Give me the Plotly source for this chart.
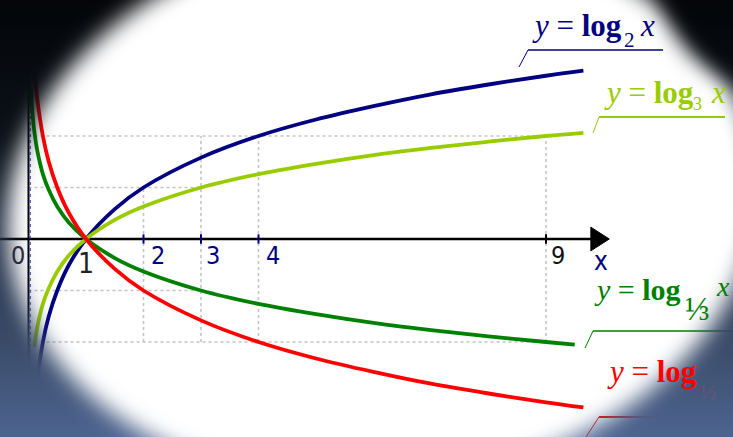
import base64
import plotly.graph_objects as go

W, H = 733, 437

# ---------------- data ----------------
X_INC = [0.1, 0.15, 0.25, 0.35, 0.5, 0.7, 1, 1.5, 2, 3, 4, 5, 6, 7, 8, 9, 9.65]
LOG2 = [-3.32, -2.74, -2.0, -1.51, -1.0, -0.51, 0, 0.58, 1, 1.58, 2, 2.32, 2.58, 2.81, 3, 3.17, 3.27]
LOG3 = [-2.10, -1.73, -1.26, -0.96, -0.63, -0.32, 0, 0.37, 0.63, 1, 1.26, 1.46, 1.63, 1.77, 1.89, 2, 2.06]

X_THIRD = [0.04, 0.06, 0.1, 0.15, 0.25, 0.35, 0.5, 0.7, 1, 1.5, 2, 3, 4, 5, 6, 7, 8, 9, 9.5]
LOG_THIRD = [2.93, 2.56, 2.10, 1.73, 1.26, 0.96, 0.63, 0.32, 0, -0.37, -0.63, -1, -1.26, -1.46, -1.63, -1.77, -1.89, -2, -2.05]

X_HALF = [0.08, 0.1, 0.15, 0.25, 0.35, 0.5, 0.7, 1, 1.5, 2, 3, 4, 5, 6, 7, 8, 9, 9.65]
LOG_HALF = [3.64, 3.32, 2.74, 2, 1.51, 1, 0.51, 0, -0.58, -1, -1.58, -2, -2.32, -2.58, -2.81, -3, -3.17, -3.27]

TICK_X = [2, 3, 4, 9]
TICK_LABELS = ["2", "3", "4", "9"]
GRID_H_Y = [2, 1, -1, -2]
GRID_H_END = [9, 3, 3, 9]
GRID_V_X = [2, 3, 4, 9]
GRID_V_TOP = [1, 2, 2, 2]
GRID_V_BOTTOM = -2

# ---------------- geometry of the drawing ----------------
X0_PX, X_UNIT = 28.5, 57.5
Y0_PX, Y_UNIT = 239.0, 51.5
XR = [-X0_PX / X_UNIT, (W - X0_PX) / X_UNIT]
YR = [-(H - Y0_PX) / Y_UNIT, Y0_PX / Y_UNIT]


def px(x):
    return x / W


def py(y):
    return 1 - y / H


NAVY = "#000080"
LIME = "#99cc00"
GREEN = "#008000"
RED = "#ff0000"
SERIF = "Liberation Serif, Times New Roman, serif"
NARROW = "Liberation Sans Narrow, DejaVu Sans Condensed, Arial Narrow, sans-serif"

fig = go.Figure()
for xs, ys, col in [(X_INC, LOG2, NAVY), (X_INC, LOG3, LIME),
                    (X_THIRD, LOG_THIRD, GREEN), (X_HALF, LOG_HALF, RED)]:
    fig.add_trace(go.Scatter(x=xs, y=ys, mode="lines",
                             line=dict(color=col, width=3.8, shape="spline", smoothing=1.0),
                             hoverinfo="skip", showlegend=False))

shapes = []
GRID = dict(color="#c4c4c4", width=1.6, dash="dot")
for gy, ge in zip(GRID_H_Y, GRID_H_END):
    shapes.append(dict(type="line", xref="x", yref="y", x0=0, x1=ge, y0=gy, y1=gy,
                       line=GRID, layer="below"))
for gx, gt in zip(GRID_V_X, GRID_V_TOP):
    shapes.append(dict(type="line", xref="x", yref="y", x0=gx, x1=gx, y0=GRID_V_BOTTOM, y1=gt,
                       line=GRID, layer="below"))

# axes
ARROW_BASE, ARROW_TIP, ARROW_HALF = 9.78, 10.1, 0.23
shapes.append(dict(type="line", xref="x", yref="y", x0=XR[0], x1=ARROW_BASE + 0.05, y0=0, y1=0,
                   line=dict(color="black", width=2.5), layer="below"))
shapes.append(dict(type="path", xref="x", yref="y",
                   path=f"M {ARROW_BASE},{ARROW_HALF} L {ARROW_TIP},0 L {ARROW_BASE},{-ARROW_HALF} Z",
                   fillcolor="black", line=dict(color="black", width=1), layer="below"))
shapes.append(dict(type="line", xref="x", yref="y", x0=0, x1=0, y0=YR[0], y1=YR[1],
                   line=dict(color="black", width=2), layer="below"))
shapes.append(dict(type="line", xref="x", yref="y", x0=0.03, x1=0.03, y0=YR[0], y1=YR[1],
                   line=dict(color="#2030c0", width=1, dash="dot"), layer="below"))
for tx in TICK_X:
    shapes.append(dict(type="line", xref="x", yref="y", x0=tx, x1=tx, y0=0.09, y1=-0.09,
                       line=dict(color=NAVY if tx < 9 else "black", width=2), layer="below"))

# label underlines with small leader strokes
for (x0, x1, yy, sx, sy, col, wd) in [
    (528, 663, 50, 519, 67, NAVY, 1.5),
    (599, 725, 117, 593, 133, LIME, 2.2),
    (593, 733, 331, 585, 348, GREEN, 1.5),
    (599, 733, 417, 586, 437, RED, 2.2),
]:
    shapes.append(dict(type="line", xref="paper", yref="paper", x0=px(x0), x1=px(x1),
                       y0=py(yy), y1=py(yy), line=dict(color=col, width=wd), layer="below"))
    shapes.append(dict(type="line", xref="paper", yref="paper", x0=px(sx), x1=px(x0),
                       y0=py(sy), y1=py(yy), line=dict(color=col, width=1), layer="below"))

ann = []


def label(text, x, y, size, color, family=SERIF, xanchor="left"):
    ann.append(dict(text=text, xref="paper", yref="paper", x=px(x), y=py(y),
                    xanchor=xanchor, yanchor="middle", showarrow=False,
                    font=dict(family=family, size=size, color=color)))


LOGTXT = "<i>y</i> = <b>log</b>"
# y = log2 x
label(LOGTXT, 530, 25, 31, NAVY)
label("2", 622, 40, 21, NAVY)
label("<i>x</i>", 638, 25, 31, NAVY)
# y = log3 x
label(LOGTXT, 602, 93, 31, LIME)
label("3", 691, 104, 18, LIME)
label("<i>x</i>", 709, 93, 31, LIME)
# y = log1/3 x
label(LOGTXT, 592, 289, 30, GREEN)
label("⅓", 683, 309, 33, GREEN)
label("<i>x</i>", 714, 286, 28, GREEN)
# y = log1/2 x (partly hidden in the reference)
label(LOGTXT, 605, 371, 31, RED)
label("½", 698, 391, 22, "rgba(190,70,100,0.35)")

# tick labels
for tx, tl in zip(TICK_X, TICK_LABELS):
    ann.append(dict(text=tl, xref="x", yref="y", x=tx, y=0, xanchor="left", yanchor="middle",
                    xshift=3 if tx in (3, 9) else 5, yshift=-16, showarrow=False,
                    font=dict(family=NARROW, size=25, color=NAVY if tx < 9 else "#111111")))
ann.append(dict(text="0", xref="x", yref="y", x=0, y=0, xanchor="right", yanchor="middle",
                xshift=-2, yshift=-16, showarrow=False,
                font=dict(family=NARROW, size=25, color="#2a2a3a")))
ann.append(dict(text="1", xref="x", yref="y", x=1, y=0, xanchor="center", yanchor="middle",
                yshift=-24, showarrow=False,
                font=dict(family=NARROW, size=28, color="#222222")))
ann.append(dict(text="x", xref="x", yref="y", x=ARROW_BASE + 0.18, y=0, xanchor="center",
                yanchor="middle", yshift=-22, showarrow=False,
                font=dict(family=NARROW, size=26, color=NAVY)))

# vignette (dark edges around a soft white ellipse)
svg = f"""<svg xmlns="http://www.w3.org/2000/svg" width="{W}" height="{H}" viewBox="0 0 {W} {H}">
<defs>
<linearGradient id="g" x1="0" y1="0" x2="0" y2="1">
<stop offset="0" stop-color="#030508"/>
<stop offset="0.3" stop-color="#0b1118"/>
<stop offset="0.45" stop-color="#1b2433"/>
<stop offset="0.6" stop-color="#2b3850"/>
<stop offset="0.78" stop-color="#3a4b68"/>
<stop offset="1" stop-color="#4d6490"/>
</linearGradient>
<filter id="b" x="-30%" y="-30%" width="160%" height="160%"><feGaussianBlur stdDeviation="11"/></filter>
<mask id="m" maskUnits="userSpaceOnUse" x="0" y="0" width="{W}" height="{H}">
<rect x="0" y="0" width="{W}" height="{H}" fill="white"/>
<ellipse cx="383" cy="207" rx="376" ry="278" transform="rotate(-6 383 207)" fill="black" filter="url(#b)"/>
<circle cx="765" cy="-18" r="102" fill="white" filter="url(#b)"/>
</mask>
</defs>
<rect x="0" y="0" width="{W}" height="{H}" fill="url(#g)" mask="url(#m)"/>
</svg>"""
src = "data:image/svg+xml;base64," + base64.b64encode(svg.encode()).decode()

fig.update_layout(
    width=W, height=H, margin=dict(l=0, r=0, t=0, b=0),
    paper_bgcolor="white", plot_bgcolor="white",
    xaxis=dict(range=XR, visible=False, fixedrange=True),
    yaxis=dict(range=YR, visible=False, fixedrange=True),
    shapes=shapes, annotations=ann,
    images=[dict(source=src, xref="paper", yref="paper", x=0, y=1, sizex=1, sizey=1,
                 xanchor="left", yanchor="top", sizing="stretch", layer="above")],
    showlegend=False,
)
fig.write_html("out.html", config={"displayModeBar": False},
               post_script="document.body.style.margin='0';document.body.style.padding='0';"
                           "document.body.style.overflow='hidden';")
